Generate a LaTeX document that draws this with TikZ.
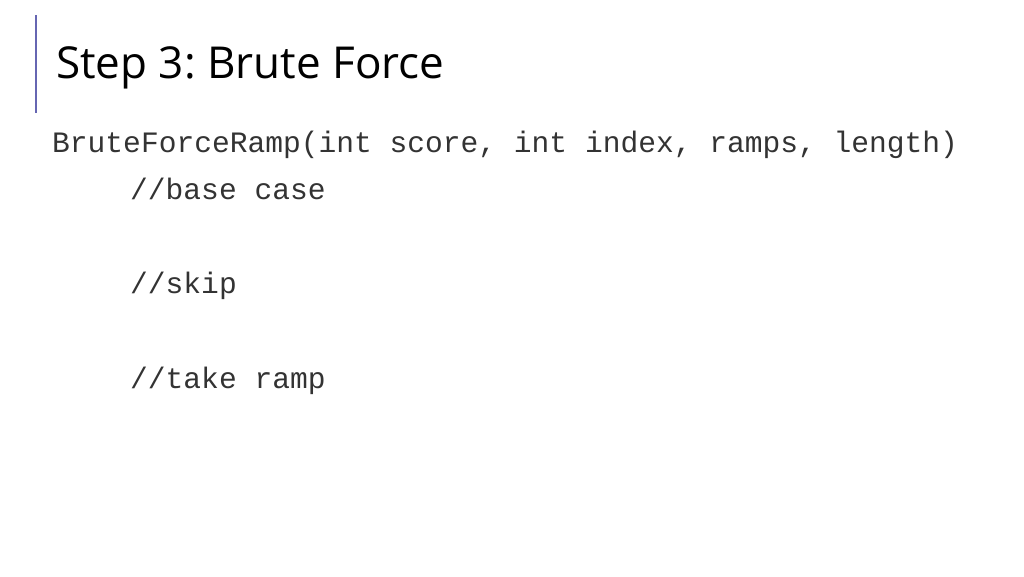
\documentclass[tikz,border=0pt]{standalone}
\usepackage{fontspec}
\setmainfont{Open Sans}
\newfontfamily\codefont{Liberation Mono}
\frenchspacing
\tikzset{
  title/.style={anchor=base west,inner sep=0pt,font=\fontsize{44}{52}\selectfont},
  code/.style={anchor=base west,inner sep=0pt,text=black!80,font=\codefont\fontsize{29.6}{34}\selectfont}
}
\begin{document}
\begin{tikzpicture}[x=1pt,y=-1pt]
  \useasboundingbox (0,0) rectangle (1024,576);
  \coordinate (bartop) at (36,15);
  \coordinate (barbot) at (36,113);
  \draw [line width=1.5pt, black!50!blue!60] (bartop) -- (barbot);
  \node [title] (head) at (56,78) {Step 3: Brute Force};
  \node [code] (sig) at (52,152) {BruteForceRamp(int score, int index, ramps, length)};
  \node [code] (base) at (130,199) {//base case};
  \node [code] (skip) at (130,293) {//skip};
  \node [code] (take) at (130,388) {//take ramp};
\end{tikzpicture}
\end{document}
